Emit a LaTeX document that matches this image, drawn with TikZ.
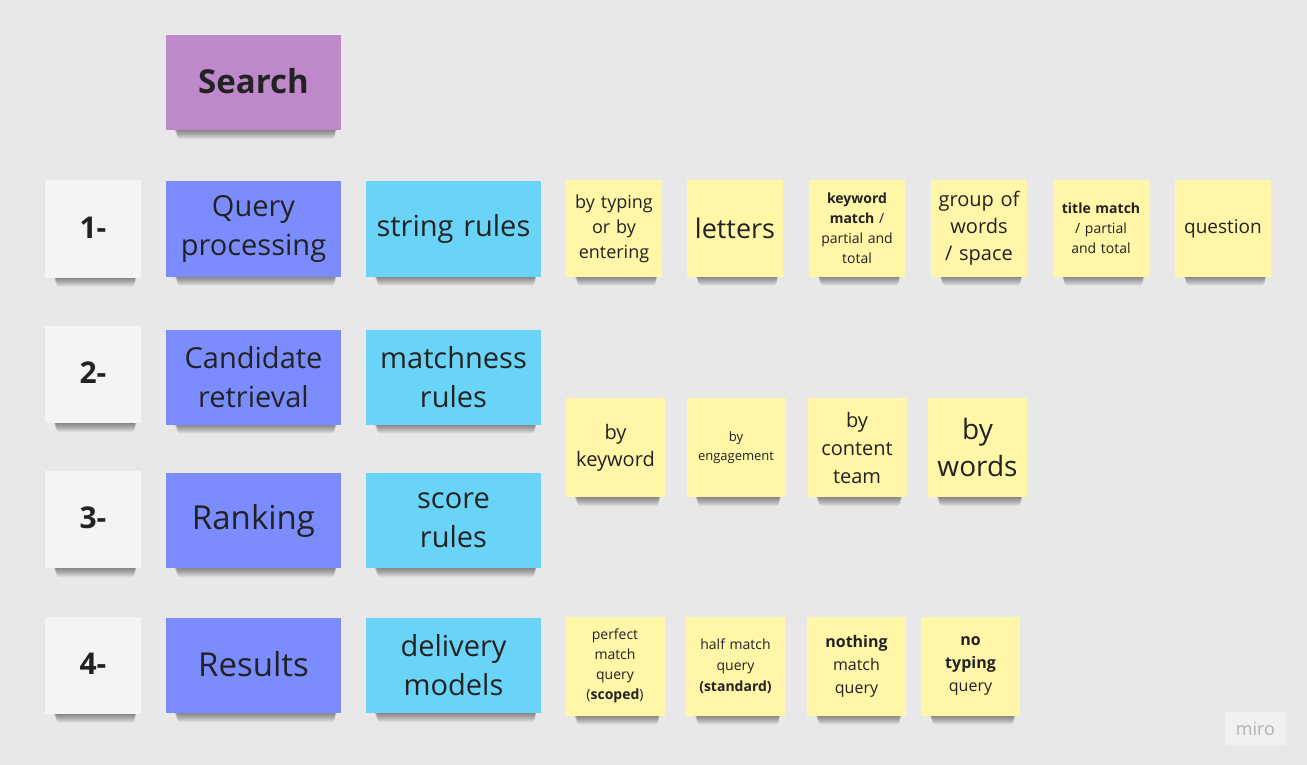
\documentclass[tikz,border=0pt]{standalone}
\usepackage{fontspec}
\setmainfont{Open Sans}
\usetikzlibrary{calc}
\pgfdeclarelayer{bg}
\pgfdeclarelayer{shadow}
\pgfsetlayers{bg,shadow,main}
\definecolor{bgc}{HTML}{E8E8E8}
\definecolor{purp}{HTML}{BF88CB}
\definecolor{bluec}{HTML}{7B8DFE}
\definecolor{cyanc}{HTML}{69D4F7}
\definecolor{yel}{HTML}{FFF6A8}
\definecolor{numc}{HTML}{F4F4F4}
\definecolor{txt}{HTML}{222222}
\newcommand{\fs}[2]{\fontsize{#1}{#2}\selectfont}
\tikzset{
  note/.style={draw=none, inner sep=0pt, align=center, text=txt},
  bignote/.style={note, minimum width=175pt, minimum height=95pt, text width=170pt},
  numnote/.style={note, fill=numc, minimum width=96pt, minimum height=97pt, text width=90pt, font=\bfseries\fs{30}{36}},
  bluenote/.style={bignote, fill=bluec, font=\fs{29}{39}},
  cyannote/.style={bignote, fill=cyanc, font=\fs{29}{39}},
  ynote/.style={note, fill=yel, minimum width=96pt, minimum height=96pt, text width=92pt},
  ynoteb/.style={note, fill=yel, minimum width=99pt, minimum height=99pt, text width=95pt},
  shadowpart/.style={fill=black, opacity=0.055, rounded corners=3pt},
}
\begin{document}
\begin{tikzpicture}[x=1pt,y=-1pt]
\begin{pgfonlayer}{bg}
\fill[bgc] (0,0) rectangle (1307,765);
\end{pgfonlayer}
\useasboundingbox (0,0) rectangle (1307,765);

\node[bignote, fill=purp, font=\bfseries\fs{33}{38}] (search) at (253.5,82.5) {\raisebox{4pt}{Search}};

\node[numnote] (n1) at (93,229) {\raisebox{3pt}{1-}};
\node[numnote] (n2) at (93,374.5) {\raisebox{3pt}{2-}};
\node[numnote] (n3) at (93,519.5) {\raisebox{3pt}{3-}};
\node[numnote] (n4) at (93,665) {\raisebox{3pt}{4-}};

\node[bluenote] (b1) at (253.5,229) {Query\\processing};
\node[bluenote] (b2) at (253.5,377) {Candidate\\retrieval};
\node[bluenote, font=\fs{33}{40}] (b3) at (253.5,520.5) {\raisebox{3pt}{Ranking}};
\node[bluenote, font=\fs{33}{40}] (b4) at (253.5,665.5) {\raisebox{3pt}{Results}};

\node[cyannote] (c1) at (453.5,229) {\raisebox{2pt}{string rules}};
\node[cyannote] (c2) at (453.5,377) {matchness\\rules};
\node[cyannote] (c3) at (453.5,520.5) {score\\rules};
\node[cyannote] (c4) at (453.5,665.5) {delivery\\models};

\node[ynote, font=\fs{18}{25}] (y11) at (614,228.5) {by typing\\or by\\entering};
\node[ynote, font=\fs{27}{32}] (y12) at (735,228.5) {letters};
\node[ynote, font=\fs{14}{20}] (y13) at (857,228.5) {\textbf{keyword}\\\textbf{match} /\\partial and\\total};
\node[ynote, font=\fs{20}{27}] (y14) at (979,228.5) {group of\\words\\/ space};
\node[ynote, font=\fs{14}{20}] (y15) at (1101,228.5) {\textbf{title match}\\/ partial\\and total};
\node[ynote, font=\fs{19}{25}] (y16) at (1223,228.5) {question};

\node[ynoteb, font=\fs{20}{27}] (y21) at (615.5,447.5) {by\\keyword};
\node[ynoteb, font=\fs{13}{19}] (y22) at (736,447.5) {by\\engagement};
\node[ynoteb, font=\fs{20}{28}] (y23) at (857,447.5) {by\\content\\team};
\node[ynoteb, font=\fs{28}{37}] (y24) at (977.5,447.5) {by\\words};

\node[ynoteb, font=\fs{14}{20}] (y41) at (615,666) {perfect\\match\\query\\(\textbf{scoped})\\[3pt]};
\node[ynoteb, font=\fs{14}{21}] (y42) at (735.5,666) {half match\\query\\\textbf{(standard)}\\[3pt]};
\node[ynoteb, font=\fs{16}{23}] (y43) at (856.5,666) {\textbf{nothing}\\match\\query\\[3pt]};
\node[ynoteb, font=\fs{16}{23}] (y44) at (970.5,666) {\textbf{no}\\\textbf{typing}\\query\\[3pt]};

\node[fill=white, fill opacity=0.35, text opacity=1, text=black!30, minimum width=61pt, minimum height=33pt, inner sep=0pt, font=\fs{18}{20}] (logo) at (1255.5,728.5) {miro};

\begin{pgfonlayer}{shadow}
\foreach \n in {search,n1,n2,n3,n4,b1,b2,b3,b4,c1,c2,c3,c4,y11,y12,y13,y14,y15,y16,y21,y22,y23,y24,y41,y42,y43,y44}{
  \foreach \k in {1,...,9}{
    \fill[shadowpart] ($(\n.south west)+(8+0.4*\k,-6)$) rectangle ($(\n.south east)+(-4-0.3*\k,\k)$);
  }
}
\end{pgfonlayer}
\end{tikzpicture}
\end{document}
